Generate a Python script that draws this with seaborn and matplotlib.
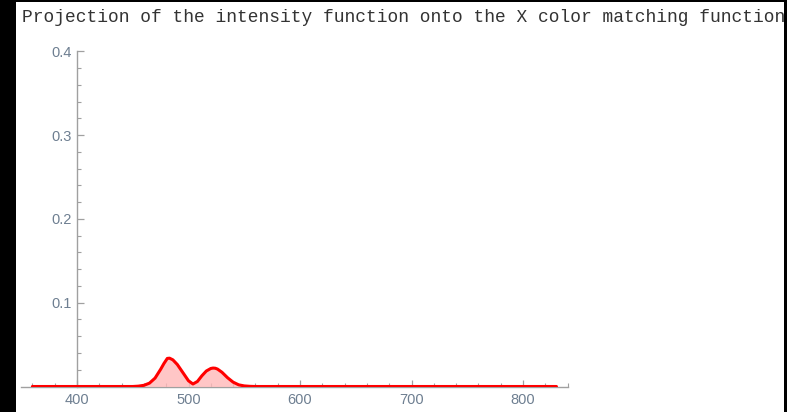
import matplotlib
matplotlib.use("Agg")
import matplotlib.pyplot as plt
from matplotlib.patches import Rectangle
from matplotlib.ticker import MultipleLocator
import numpy as np
import pandas as pd
import seaborn as sns

# Projected intensity (wavelength in nm -> value)
wavelength = [360, 440, 450, 455, 460, 465, 470, 475, 478, 481, 483, 486,
              490, 495, 500, 504, 508, 512, 516, 520, 522, 524, 526, 530,
              535, 540, 545, 550, 555, 560, 830]
projection = [0.0, 0.0, 0.0, 0.0004, 0.0014, 0.0040, 0.0100, 0.0205, 0.0275,
              0.0335, 0.0338, 0.0318, 0.0262, 0.0165, 0.0068, 0.0030, 0.0060,
              0.0128, 0.0185, 0.0215, 0.0220, 0.0218, 0.0208, 0.0170, 0.0105,
              0.0052, 0.0020, 0.0007, 0.0002, 0.0, 0.0]

x_major = [400, 500, 600, 700, 800]
y_major = [0.1, 0.2, 0.3, 0.4]
title = "Projection of the intensity function onto the X color matching function"

df = pd.DataFrame({"wavelength": wavelength, "projection": projection})

sns.set_style("white")
W, H = 787, 412
fig = plt.figure(figsize=(W / 100, H / 100), dpi=100, facecolor="black")
fig.patches.append(Rectangle((16 / W, 0), (784 - 16) / W, (H - 2) / H,
                             transform=fig.transFigure, facecolor="white",
                             edgecolor="none", zorder=-10))

left_px, right_px = 21.25, 567.6
bottom_px, top_px = 386.5, 51.3
ax = fig.add_axes([left_px / W, (H - bottom_px) / H,
                   (right_px - left_px) / W, (bottom_px - top_px) / H])
ax.set_zorder(5)
ax.set_facecolor("none")

ax.fill_between(df["wavelength"], 0, df["projection"], color="#ffb8b8",
                alpha=0.8, linewidth=0, zorder=2)
sns.lineplot(data=df, x="wavelength", y="projection", ax=ax, color="#ff0000",
             linewidth=2.2, zorder=3)

ax.set_xlim(350, 840)
ax.set_ylim(0, 0.4)
ax.set_xlabel("")
ax.set_ylabel("")

axis_gray = "#a0a0a0"
label_color = "#6e7f91"
for side in ("top", "right"):
    ax.spines[side].set_visible(False)
ax.spines["left"].set_position(("data", 400))
ax.spines["bottom"].set_position(("data", 0))
for side in ("left", "bottom"):
    ax.spines[side].set_color(axis_gray)
    ax.spines[side].set_linewidth(1.0)
    ax.spines[side].set_zorder(1)

ax.set_xticks(x_major)
ax.set_yticks(y_major)
ax.xaxis.set_minor_locator(MultipleLocator(20))
ax.yaxis.set_minor_locator(MultipleLocator(0.02))
ax.set_xticklabels([str(v) for v in x_major])
ax.set_yticklabels([f"{v:.1f}" for v in y_major])

ax.tick_params(axis="both", which="both", bottom=True, left=True,
               top=False, right=False)
ax.tick_params(axis="both", which="major", direction="in", length=5,
               width=0.9, color=axis_gray, labelcolor=label_color,
               labelsize=10.5)
ax.tick_params(axis="both", which="minor", direction="in", length=3,
               width=0.8, color=axis_gray)
ax.tick_params(axis="x", which="major", pad=5)
ax.tick_params(axis="y", which="major", pad=4)
for lab in ax.get_xticklabels() + ax.get_yticklabels():
    lab.set_fontfamily("Liberation Sans")

fig.text(22 / W, 1 - 18 / H, title, ha="left", va="center",
         fontfamily="Liberation Mono", fontsize=12.9, color="#333333",
         zorder=6)

fig.savefig("out.png", dpi=100, facecolor="black")
